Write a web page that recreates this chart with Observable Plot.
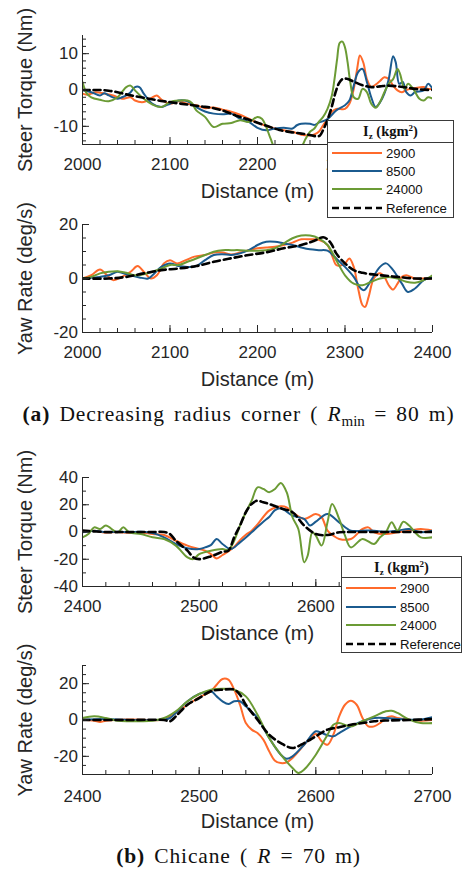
<!DOCTYPE html>
<html>
<head>
<meta charset="utf-8">
<script src="https://cdn.jsdelivr.net/npm/d3@7"></script>
<script src="https://cdn.jsdelivr.net/npm/@observablehq/plot@0.6"></script>
<style>
  html, body { margin: 0; padding: 0; background: #fff; }
  #wrap { position: relative; width: 465px; height: 871px; overflow: hidden; background: #fff; }
  .panel { position: absolute; left: 0; }
  .legend { position: absolute; }
  .cap { position: absolute; left: 6px; width: 465px; text-align: center; white-space: nowrap;
         font-family: 'Liberation Serif', 'Times New Roman', serif; font-size: 21.5px; color: #111;
         letter-spacing: 0.04em; word-spacing: 3px; line-height: 24px; }
  .cap sub { font-size: 0.7em; vertical-align: -0.3em; line-height: 0; letter-spacing: 0; }
</style>
</head>
<body>
<div id="wrap"></div>
<script>
// ---------- series meta ----------
const seriesNames = ["2900", "8500", "24000", "Reference"];
const seriesColors = ["#ff6a2b", "#1b5b8f", "#6b9b35", "#000000"];

// ---------- (a) Decreasing radius corner : steer torque ----------
const torqueA_2900 = [[2000,-1],[2005,-1.3],[2010,-1],[2015,-0.6],[2025,-1],[2035,-1.5],[2045,-2.4],[2055,-2],[2060,-2.9],[2070,-3.3],[2078,-2.3],[2085,-1.5],[2090,-2.6],[2100,-3.8],[2110,-3.1],[2120,-3.8],[2130,-4.2],[2140,-5],[2150,-4.8],[2160,-5.4],[2170,-6],[2180,-6.8],[2190,-7.9],[2200,-9],[2210,-9.9],[2220,-10.6],[2230,-11.1],[2240,-11.5],[2250,-12.3],[2260,-12.5],[2265,-12.2],[2270,-11.5],[2275,-9.7],[2280,-8],[2285,-6],[2290,-5.2],[2300,-5.2],[2305,-3.8],[2310,0.3],[2314,6],[2317,9.5],[2321,7.5],[2325,3],[2330,0.8],[2335,1.5],[2340,2.5],[2345,3.5],[2350,3],[2355,1.2],[2360,-0.1],[2365,-0.6],[2370,0],[2380,0.5],[2390,0.8],[2395,0.3],[2400,0.3]];
const torqueA_8500 = [[2000,0],[2010,-0.6],[2020,-1.5],[2025,-0.9],[2030,-1.5],[2040,-2.4],[2045,-2],[2050,-1.5],[2055,-0.6],[2060,0.8],[2065,0.8],[2070,-1],[2080,-3.8],[2090,-4.7],[2095,-4.3],[2100,-3.8],[2110,-2.9],[2120,-3.1],[2130,-4.7],[2140,-5.9],[2150,-6.5],[2160,-6.7],[2170,-6.5],[2180,-7.9],[2190,-8.8],[2200,-10.4],[2210,-11.1],[2220,-10.6],[2230,-10.4],[2240,-10.6],[2245,-9.7],[2250,-9.3],[2260,-9.3],[2265,-9.6],[2270,-9],[2280,-8],[2290,-5.6],[2300,-4.2],[2305,-2.9],[2310,1.2],[2315,4.9],[2320,5.8],[2325,2.2],[2330,-2],[2335,-4.7],[2340,-3.4],[2345,-1],[2350,3],[2355,9.3],[2358,7.6],[2362,1.7],[2366,2.2],[2370,-0.6],[2375,-1.5],[2380,-0.6],[2390,-0.1],[2395,1.7],[2400,0.3]];
const torqueA_24000 = [[2000,2.2],[2005,-1],[2010,-2],[2020,-2.7],[2030,-3.1],[2040,-2],[2045,-0.6],[2050,0.8],[2055,1.2],[2060,-0.1],[2070,-2.4],[2080,-4],[2090,-4.7],[2100,-3.3],[2110,-2.9],[2120,-2.9],[2125,-3.6],[2130,-5.6],[2140,-7.4],[2150,-10.2],[2160,-9.3],[2170,-9.1],[2180,-8.3],[2190,-8.8],[2200,-7.4],[2205,-7.9],[2210,-10.2],[2215,-13.4],[2220,-15.8],[2230,-15.5],[2240,-15.5],[2250,-15.5],[2255,-13.4],[2260,-11.5],[2265,-10.6],[2270,-8.8],[2275,-7.4],[2280,-5.2],[2285,-1.5],[2288,3],[2291,8.5],[2294,13],[2297,13.3],[2300,11.7],[2303,7.6],[2306,2.2],[2310,-2],[2315,-2.4],[2320,0.3],[2325,-0.6],[2330,-3.8],[2335,-4.9],[2340,-3.3],[2345,-0.6],[2350,1.7],[2355,3],[2360,5.8],[2363,4.4],[2368,0.3],[2372,1.7],[2378,0.3],[2385,-2.4],[2390,-2.9],[2395,-2],[2400,-2.4]];
const torqueA_ref = [[2000,0],[2010,0],[2020,0],[2030,-0.2],[2040,-0.6],[2050,-1.2],[2060,-1.7],[2072,-2.2],[2085,-2.8],[2099,-3.3],[2110,-3.7],[2120,-4],[2135,-4.5],[2150,-5],[2162,-5.8],[2175,-7],[2188,-8],[2200,-9],[2212,-10],[2225,-11],[2238,-11.6],[2250,-12],[2260,-12.4],[2266,-12.7],[2271,-12.6],[2275,-11],[2280,-8.2],[2285,-4.5],[2289,-0.8],[2293,1.8],[2297,3],[2302,3.1],[2310,2.3],[2320,1.3],[2330,0.8],[2340,1],[2350,1.2],[2360,1],[2370,0.7],[2380,0.3],[2390,0.1],[2400,0]];

// ---------- (a) yaw rate ----------
const yawA_2900 = [[2000,0],[2010,1.2],[2020,3.3],[2028,1.2],[2035,-0.6],[2045,0.6],[2055,2.5],[2063,4.6],[2070,2.5],[2078,0],[2085,1.2],[2093,5.6],[2100,6.8],[2108,5.6],[2118,6.8],[2128,8.1],[2140,8.7],[2150,9.6],[2160,9.6],[2170,8.9],[2180,9.6],[2190,10.5],[2200,11.2],[2210,11.5],[2220,11.8],[2230,12.4],[2240,13.3],[2250,14.5],[2260,14.5],[2270,14.3],[2280,12.4],[2285,8.7],[2290,5],[2295,4.8],[2300,5.6],[2305,7.4],[2310,4.3],[2315,-3.7],[2320,-9.9],[2323,-10.5],[2327,-6.8],[2333,0],[2340,1.9],[2345,0.6],[2350,-2.5],[2355,-4.1],[2360,-1.9],[2365,0.6],[2370,1.2],[2380,0],[2390,0],[2400,0]];
const yawA_8500 = [[2000,0],[2020,0.6],[2030,1.2],[2040,2.5],[2045,2.1],[2055,1.2],[2065,0.4],[2075,0],[2080,1.2],[2090,4.3],[2100,5.6],[2110,4.6],[2120,4.3],[2130,4.6],[2140,6.8],[2150,8.7],[2160,9],[2170,8.7],[2180,9.3],[2190,10.5],[2200,12.4],[2210,13.6],[2220,13.6],[2230,13],[2240,12.4],[2250,11.5],[2260,10.8],[2270,10.5],[2280,10.3],[2290,7.4],[2300,4.3],[2310,0.6],[2318,-3.7],[2322,-4.3],[2330,-0.6],[2340,4.3],[2347,5.6],[2355,3.1],[2365,-1.9],[2372,-5],[2380,-3.7],[2390,-0.6],[2400,0.6]];
const yawA_24000 = [[2000,0],[2010,0.6],[2020,1.9],[2030,2.5],[2040,2.7],[2050,2.1],[2060,1.2],[2070,1.6],[2080,2.5],[2090,3.7],[2100,5],[2110,5],[2120,6.2],[2130,7.4],[2140,8.7],[2150,9.9],[2160,10.5],[2170,10.5],[2180,10.5],[2190,10.3],[2200,10.3],[2210,10.5],[2220,11.2],[2230,13],[2240,14.9],[2250,15.9],[2260,15.9],[2270,14.9],[2280,12.4],[2290,6.8],[2300,1.2],[2310,-1.9],[2320,-2.5],[2330,-1.2],[2340,0],[2350,0.6],[2360,0],[2370,-1.2],[2380,-1.6],[2390,-0.6],[2400,1.2]];
const yawA_ref = [[2000,0],[2030,0],[2050,0.6],[2070,1.9],[2090,3.1],[2110,3.7],[2130,4.6],[2150,6.2],[2170,7.5],[2190,8.7],[2210,9.7],[2230,11.2],[2250,12.4],[2265,14],[2275,15.3],[2280,14.5],[2285,12.5],[2290,9.3],[2300,5.6],[2310,3.1],[2320,2.1],[2340,1.2],[2360,0.6],[2380,0],[2400,0]];

// ---------- (b) Chicane : steer torque ----------
const torqueB_2900 = [[2400,0],[2410,1],[2420,-0.5],[2430,0],[2440,-0.7],[2450,-0.3],[2460,-1.5],[2470,-2.2],[2480,-6.4],[2490,-10],[2500,-12.5],[2505,-13.7],[2510,-16.2],[2515,-19.4],[2520,-16.9],[2530,-11],[2535,-6],[2540,-2],[2545,1],[2550,5.5],[2560,15.7],[2570,18.9],[2575,18.1],[2580,14.5],[2590,9.6],[2600,13.2],[2605,10.8],[2610,1],[2615,-2.7],[2620,-5.1],[2630,-5.1],[2640,2.2],[2645,3.4],[2650,-0.2],[2660,-1.5],[2670,-0.2],[2680,1],[2690,2.2],[2700,1]];
const torqueB_8500 = [[2400,-0.2],[2410,1],[2420,-0.2],[2430,0.2],[2440,-0.2],[2450,0.2],[2460,-0.7],[2470,-3.9],[2480,-8.8],[2490,-12],[2500,-12.5],[2505,-11.3],[2510,-9.6],[2515,-5.1],[2520,-8.8],[2527,-12.5],[2535,-7.6],[2545,-0.2],[2555,7.6],[2560,11],[2565,16],[2570,17.4],[2580,12],[2590,9.6],[2595,4.7],[2600,7.6],[2610,13.2],[2620,7.1],[2630,1],[2640,1],[2650,1],[2660,0.2],[2670,1],[2680,2.2],[2690,-0.2],[2700,1]];
const torqueB_24000 = [[2400,-3.9],[2405,-1.5],[2410,3.4],[2415,2.2],[2420,4.7],[2430,-0.2],[2435,3.4],[2440,-0.2],[2450,-1.5],[2460,-3.9],[2470,-5.1],[2480,-10],[2490,-18.6],[2495,-19.9],[2500,-16.2],[2510,-13.7],[2520,-12.5],[2525,-13.2],[2530,-6.4],[2535,4.7],[2540,14.5],[2545,23],[2550,32.8],[2555,31.6],[2560,29.2],[2565,31.6],[2570,36],[2575,29.2],[2580,10.8],[2585,2.2],[2590,-22.3],[2593,-17.4],[2597,-0.2],[2600,-2.7],[2605,-10],[2610,7.1],[2614,20.6],[2620,9.6],[2625,-2.7],[2630,-11.3],[2640,-5.1],[2650,-8.8],[2655,-3.9],[2660,-0.2],[2665,7.1],[2670,1],[2675,7.6],[2680,4.7],[2685,-0.2],[2690,-3.9],[2700,-3.9]];
const torqueB_ref = [[2400,1],[2420,0],[2440,0],[2460,0],[2470,0],[2475,-1.5],[2480,-6.4],[2490,-13.7],[2495,-18.6],[2500,-19.9],[2510,-17.9],[2520,-14.5],[2525,-13.7],[2530,-3.9],[2535,4.7],[2540,14.5],[2545,20.6],[2550,23],[2555,21.8],[2560,20.6],[2570,17.4],[2580,14.5],[2590,4.7],[2600,-1.5],[2610,-2.2],[2620,-0.2],[2630,0],[2660,0],[2700,0]];

// ---------- (b) yaw rate ----------
const yawB_2900 = [[2400,0.2],[2410,-0.4],[2415,-1.1],[2420,-0.4],[2430,0.2],[2450,0.2],[2470,0.2],[2475,2],[2480,3.9],[2490,8.4],[2500,12.5],[2510,15.8],[2515,19.4],[2520,22.6],[2525,22.2],[2530,16.7],[2535,8.4],[2540,-1.7],[2545,-5.3],[2550,-7.2],[2555,-10.8],[2560,-17.2],[2565,-22.4],[2570,-23.7],[2575,-23.3],[2580,-20.9],[2590,-13.6],[2595,-9.9],[2600,-7.7],[2605,-11.7],[2610,-13.6],[2615,-8.1],[2620,2],[2625,8.4],[2630,10.6],[2635,8.4],[2640,1.1],[2645,-3.5],[2650,-3.5],[2655,-1.7],[2660,1.1],[2665,2],[2670,1.1],[2680,0.2],[2690,-0.4],[2700,0]];
const yawB_8500 = [[2400,0.2],[2420,0.5],[2440,0],[2465,0],[2470,0.2],[2475,1.1],[2480,3.9],[2490,10.3],[2500,14.3],[2510,15.8],[2515,13],[2520,10.3],[2525,8.8],[2530,10.3],[2535,10.3],[2540,7.5],[2550,1.1],[2560,-9.9],[2570,-19.1],[2575,-21.3],[2580,-20],[2590,-13.6],[2600,-6.2],[2605,-7.2],[2610,-8.4],[2615,-9],[2620,-7.2],[2630,-3.5],[2640,-0.7],[2650,1.1],[2660,1.1],[2670,0.5],[2680,0.2],[2690,0.2],[2700,1.5]];
const yawB_24000 = [[2400,1.1],[2410,2],[2420,1.1],[2430,-0.4],[2440,-0.7],[2450,-0.7],[2460,-0.4],[2470,1.1],[2480,4.8],[2490,10.3],[2500,14.3],[2510,16.7],[2520,17.2],[2530,16.7],[2540,13],[2550,2.9],[2560,-9.9],[2570,-19.1],[2580,-26.4],[2585,-29.2],[2590,-27.3],[2600,-19.1],[2610,-8.1],[2615,-2.6],[2620,-1.7],[2630,-3.5],[2640,-0.7],[2650,2],[2660,4.8],[2665,5.1],[2670,3.9],[2680,0.2],[2690,-1.7],[2700,-1.7]];
const yawB_ref = [[2400,0],[2440,0],[2470,0],[2475,-0.7],[2480,2],[2490,8.4],[2500,12.1],[2510,15.8],[2520,16.7],[2530,16.7],[2535,13.9],[2540,8.4],[2550,0.2],[2560,-8.1],[2570,-12.7],[2580,-15.4],[2590,-12.7],[2600,-9],[2610,-5.3],[2620,-4],[2630,-2.6],[2640,-1.7],[2650,-0.7],[2660,-0.3],[2680,0],[2700,0.5]];

// ---------- axes ----------
const xLabel = "Distance (m)";
const yLabelTorque = "Steer Torque (Nm)";
const yLabelYaw = "Yaw Rate (deg/s)";
const xTicksA = [2000, 2100, 2200, 2300, 2400];
const xTicksB = [2400, 2500, 2600, 2700];
// tick labels that sit fully behind a legend box in the original
const xTicksHiddenTorqueA = [2400];
const xTicksHiddenTorqueB = [2700];
const yTicksTorqueA = [-10, 0, 10];
const yTicksYawA = [-20, 0, 20];
const yTicksTorqueB = [-40, -20, 0, 20, 40];
const yTicksYawB = [-20, 0, 20];

const sans = "'Liberation Sans', Arial, Helvetica, sans-serif";
const axisColor = "#262626";

function panel(cfg) {
  const marks = [];
  cfg.series.forEach((data, i) => {
    const isRef = i === 3;
    const opts = {
      x: d => d[0], y: d => d[1],
      stroke: seriesColors[i],
      strokeWidth: isRef ? 2.6 : 2,
      curve: "catmull-rom",
      clip: true
    };
    if (isRef) opts.strokeDasharray = "7,4";
    marks.push(Plot.line(data, opts));
  });
  const hidden = cfg.xHidden || [];
  marks.push(
    Plot.ruleX([cfg.xDomain[0]], {stroke: axisColor, strokeWidth: 1}),
    Plot.ruleY([cfg.yDomain[0]], {stroke: axisColor, strokeWidth: 1}),
    Plot.axisX({ticks: cfg.xMinor, tickSize: -4, tickFormat: () => "", label: null, stroke: axisColor}),
    Plot.axisX({ticks: cfg.xMajor, tickSize: -7, tickPadding: cfg.xPad, tickFormat: d => hidden.includes(d) ? "" : String(d), label: null, stroke: axisColor, fill: axisColor}),
    Plot.axisY({ticks: cfg.yMinor, tickSize: -4, tickFormat: () => "", label: null, stroke: axisColor}),
    Plot.axisY({ticks: cfg.yMajor, tickSize: -7, tickPadding: 11.5, tickFormat: d => String(d), label: null, stroke: axisColor, fill: axisColor}),
    Plot.text([xLabel], {text: d => d, frameAnchor: "bottom", dy: 47, fontSize: 20, textAnchor: "middle", lineAnchor: "middle", fill: axisColor}),
    Plot.text([cfg.yLabel], {text: d => d, frameAnchor: "left", dx: -57, rotate: -90, fontSize: 20, textAnchor: "middle", lineAnchor: "middle", fill: axisColor})
  );
  const svg = Plot.plot({
    width: 465,
    height: cfg.height,
    marginLeft: 82, marginRight: 33,
    marginTop: cfg.marginTop, marginBottom: cfg.marginBottom,
    x: {domain: cfg.xDomain},
    y: {domain: cfg.yDomain},
    style: {fontFamily: sans, fontSize: "17px", color: axisColor, background: "transparent", overflow: "visible"},
    marks
  });
  svg.classList.add("panel");
  svg.style.top = cfg.top + "px";
  return svg;
}

const wrap = document.getElementById("wrap");

wrap.appendChild(panel({
  top: 0, height: 200, marginTop: 35, marginBottom: 56,
  xDomain: [2000, 2400], yDomain: [-15, 15],
  xMajor: xTicksA, xMinor: d3.range(2000, 2401, 20), xHidden: xTicksHiddenTorqueA,
  yMajor: yTicksTorqueA, yMinor: d3.range(-14, 15, 2),
  xPad: 20, yLabel: yLabelTorque,
  series: [torqueA_2900, torqueA_8500, torqueA_24000, torqueA_ref]
}));
wrap.appendChild(panel({
  top: 200, height: 200, marginTop: 24, marginBottom: 68,
  xDomain: [2000, 2400], yDomain: [-20, 20],
  xMajor: xTicksA, xMinor: d3.range(2000, 2401, 20),
  yMajor: yTicksYawA, yMinor: d3.range(-20, 21, 5),
  xPad: 20.5, yLabel: yLabelYaw,
  series: [yawA_2900, yawA_8500, yawA_24000, yawA_ref]
}));
wrap.appendChild(panel({
  top: 455, height: 195, marginTop: 22, marginBottom: 64,
  xDomain: [2400, 2700], yDomain: [-40, 40],
  xMajor: xTicksB, xMinor: d3.range(2400, 2701, 20), xHidden: xTicksHiddenTorqueB,
  yMajor: yTicksTorqueB, yMinor: d3.range(-40, 41, 10),
  xPad: 20.5, yLabel: yLabelTorque,
  series: [torqueB_2900, torqueB_8500, torqueB_24000, torqueB_ref]
}));
wrap.appendChild(panel({
  top: 650, height: 190, marginTop: 15, marginBottom: 66,
  xDomain: [2400, 2700], yDomain: [-30, 30],
  xMajor: xTicksB, xMinor: d3.range(2400, 2701, 20),
  yMajor: yTicksYawB, yMinor: d3.range(-30, 31, 5),
  xPad: 22, yLabel: yLabelYaw,
  series: [yawB_2900, yawB_8500, yawB_24000, yawB_ref]
}));

// ---------- legends ----------
function legend(left, top, w, h, headerH, rowYs) {
  const ns = "http://www.w3.org/2000/svg";
  const svg = document.createElementNS(ns, "svg");
  svg.setAttribute("width", w); svg.setAttribute("height", h);
  svg.setAttribute("class", "legend");
  svg.style.left = left + "px"; svg.style.top = top + "px";
  let html = `<rect x="0.5" y="0.5" width="${w - 1}" height="${h - 1}" fill="#fff" stroke="#3a3a3a" stroke-width="1"/>`;
  html += `<line x1="0" x2="${w}" y1="${headerH + 0.5}" y2="${headerH + 0.5}" stroke="#3a3a3a" stroke-width="1"/>`;
  html += `<text x="${w / 2}" y="${headerH / 2 + 5}" text-anchor="middle" font-family="'Liberation Serif', 'Times New Roman', serif" font-size="14.5" font-weight="bold" fill="#111">I<tspan font-size="9" dy="3">z</tspan><tspan dy="-3"> (kgm</tspan><tspan font-size="9" dy="-5">2</tspan><tspan dy="5">)</tspan></text>`;
  seriesNames.forEach((name, i) => {
    const y = rowYs[i];
    const dash = i === 3 ? ` stroke-dasharray="7,4"` : "";
    html += `<line x1="5" x2="55" y1="${y}" y2="${y}" stroke="${seriesColors[i]}" stroke-width="${i === 3 ? 2.6 : 2.2}"${dash}/>`;
    html += `<text x="59" y="${y + 4.7}" font-family="${sans.replace(/'/g, "&apos;")}" font-size="13.2" fill="#111">${name}</text>`;
  });
  svg.innerHTML = html;
  return svg;
}
wrap.appendChild(legend(327, 120, 127, 98, 22, [33, 51, 69, 88]));
wrap.appendChild(legend(341, 556, 121, 97, 21, [32, 51, 69, 88]));

// ---------- captions ----------
const capA = document.createElement("div");
capA.className = "cap"; capA.style.top = "402px";
capA.innerHTML = `<b>(a)</b> Decreasing radius corner ( <i>R</i><sub>min</sub> = 80 m)`;
wrap.appendChild(capA);
const capB = document.createElement("div");
capB.className = "cap"; capB.style.top = "844px";
capB.innerHTML = `<b>(b)</b> Chicane ( <i>R</i> = 70 m)`;
wrap.appendChild(capB);
</script>
</body>
</html>
